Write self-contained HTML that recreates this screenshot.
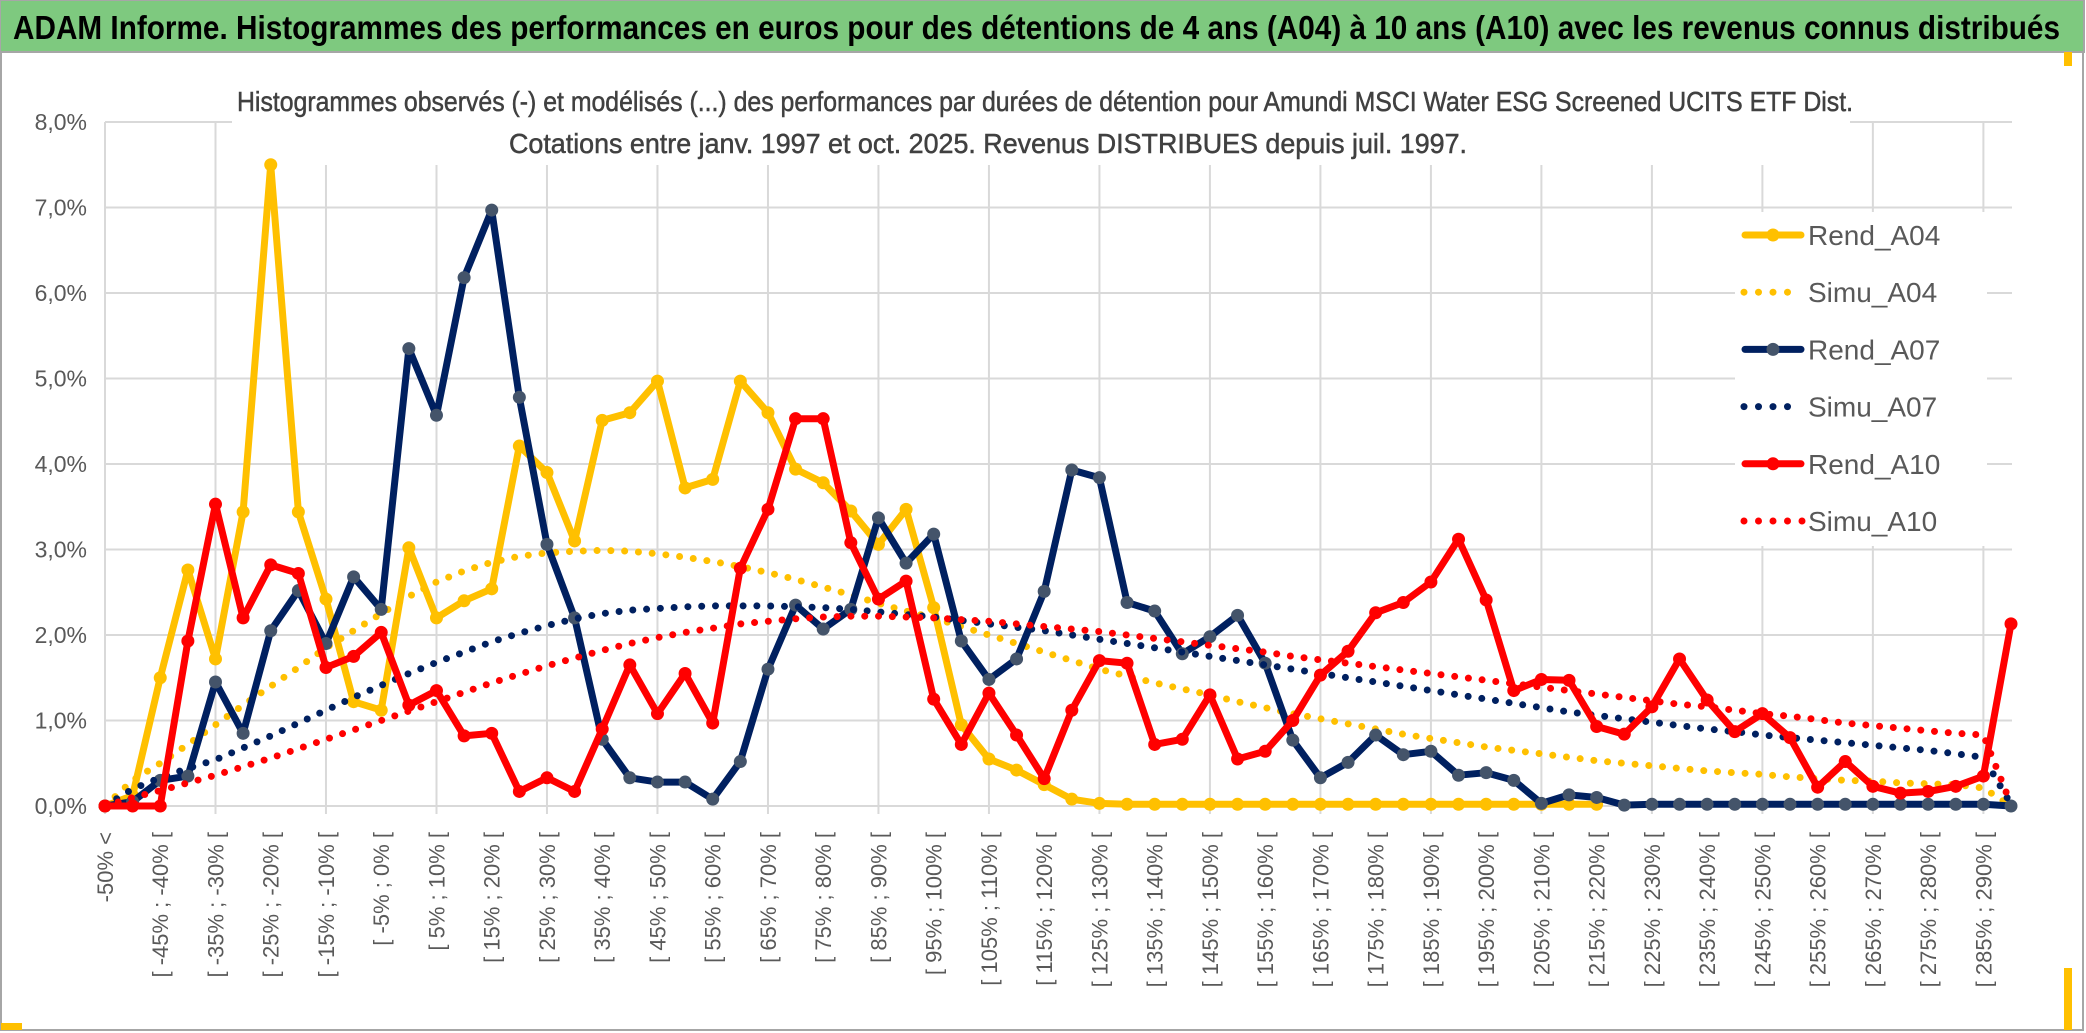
<!DOCTYPE html>
<html><head><meta charset="utf-8"><style>
html,body{margin:0;padding:0;background:#fff;}
svg{display:block;font-family:"Liberation Sans",sans-serif;}
</style></head><body>
<svg id="chart" width="2086" height="1033" viewBox="0 0 2086 1033" xmlns="http://www.w3.org/2000/svg">
  <rect x="0" y="0" width="2086" height="1033" fill="#ffffff"/>
  <rect x="1" y="52" width="2082" height="978" fill="#ffffff" stroke="#a6a6a6" stroke-width="2"/>
  <rect x="0" y="0" width="2084" height="52" fill="#7ec97f" stroke="#a6a6a6" stroke-width="2"/>
  <text x="13" y="39" font-size="33" font-weight="bold" fill="#000" textLength="2047" lengthAdjust="spacingAndGlyphs">ADAM Informe. Histogrammes des performances en euros pour des détentions de 4 ans (A04) à 10 ans (A10) avec les revenus connus distribués</text>
  <rect x="2064" y="52" width="8" height="14" fill="#ffc000"/>
  <rect x="1" y="1023" width="21" height="7" fill="#ffc000"/>
  <rect x="2064" y="968" width="8" height="62" fill="#ffc000"/>
  <g id="grid"></g>
  <rect x="232" y="70" width="1618" height="95" fill="#ffffff"/>
  <text x="237" y="111" font-size="28" fill="#404040" stroke="#404040" stroke-width="0.5" textLength="1616" lengthAdjust="spacingAndGlyphs">Histogrammes observés (-) et modélisés (...) des performances par durées de détention pour Amundi MSCI Water ESG Screened UCITS ETF Dist.</text>
  <text x="509" y="153" font-size="28" fill="#404040" stroke="#404040" stroke-width="0.5" textLength="958" lengthAdjust="spacingAndGlyphs">Cotations entre janv. 1997 et oct. 2025. Revenus DISTRIBUES depuis juil. 1997.</text>
  <g id="yaxis"></g>
  <g id="xaxis"></g>
  <rect x="1735" y="212" width="252" height="334" fill="#ffffff"/>
  <g id="series"></g>
  <g id="legend"></g>
</svg>
<script>
const categories = ['-50% <'];
for (let a = -50; a <= 290; a += 5) categories.push('[ ' + a + '% ; ' + (a + 5) + '% [');
const yTicks = [0, 1, 2, 3, 4, 5, 6, 7, 8];
const yTickLabels = ['0,0%', '1,0%', '2,0%', '3,0%', '4,0%', '5,0%', '6,0%', '7,0%', '8,0%'];
const seriesNames = ['Rend_A04', 'Simu_A04', 'Rend_A07', 'Simu_A07', 'Rend_A10', 'Simu_A10'];
const rendA04 = [0,0.12,1.5,2.76,1.72,3.44,7.5,3.44,2.42,1.22,
  1.12,3.02,2.2,2.4,2.54,4.21,3.9,3.1,4.51,4.6,
  4.97,3.72,3.82,4.97,4.6,3.94,3.78,3.45,3.06,3.47,
  2.32,0.95,0.55,0.42,0.25,0.08,0.03,0.02,0.02,0.02,
  0.02,0.02,0.02,0.02,0.02,0.02,0.02,0.02,0.02,0.02,
  0.02,0.02,0.02,0.02,0.02,null,null,null,null,null,
  null,null,null,null,null,null,null,null,null,null];
const simuA04 = [0,0.3,0.5,0.72,0.95,1.18,1.4,1.62,1.85,2.05,
  2.25,2.45,2.62,2.75,2.85,2.92,2.96,2.98,2.99,2.98,
  2.95,2.91,2.86,2.8,2.73,2.65,2.56,2.47,2.37,2.28,
  2.2,2.1,2.0,1.9,1.8,1.7,1.6,1.52,1.44,1.37,
  1.3,1.22,1.15,1.08,1.02,0.96,0.9,0.84,0.79,0.74,
  0.69,0.65,0.61,0.57,0.53,0.5,0.47,0.44,0.41,0.39,
  0.37,0.34,0.32,0.3,0.29,0.27,0.26,0.25,0.21,0];
const rendA07 = [0,0.05,0.3,0.35,1.45,0.85,2.05,2.52,1.9,2.68,
  2.3,5.35,4.57,6.18,6.97,4.78,3.06,2.2,0.78,0.33,
  0.28,0.28,0.08,0.52,1.6,2.35,2.07,2.3,3.37,2.84,
  3.18,1.93,1.48,1.72,2.51,3.93,3.84,2.38,2.28,1.78,
  1.98,2.23,1.67,0.77,0.33,0.51,0.83,0.6,0.64,0.36,
  0.39,0.3,0.03,0.13,0.1,0.01,0.02,0.02,0.02,0.02,
  0.02,0.02,0.02,0.02,0.02,0.02,0.02,0.02,0.02,0];
const simuA07 = [0,0.2,0.33,0.44,0.54,0.68,0.82,0.97,1.12,1.27,
  1.41,1.55,1.68,1.8,1.92,2.02,2.11,2.19,2.25,2.29,
  2.31,2.33,2.34,2.34,2.34,2.33,2.32,2.3,2.27,2.24,
  2.21,2.17,2.13,2.09,2.05,2.0,1.95,1.9,1.85,1.8,
  1.75,1.7,1.65,1.6,1.55,1.5,1.45,1.4,1.35,1.3,
  1.25,1.2,1.15,1.1,1.06,1.02,0.98,0.94,0.9,0.87,
  0.83,0.8,0.77,0.74,0.71,0.68,0.65,0.61,0.57,0.02];
const rendA10 = [0,0,0,1.93,3.53,2.2,2.82,2.72,1.62,1.75,
  2.03,1.18,1.35,0.82,0.85,0.17,0.33,0.17,0.9,1.65,
  1.08,1.55,0.97,2.78,3.47,4.53,4.53,3.08,2.42,2.63,
  1.25,0.72,1.32,0.83,0.32,1.12,1.7,1.67,0.72,0.78,
  1.3,0.55,0.64,1.0,1.53,1.81,2.26,2.38,2.62,3.12,
  2.41,1.35,1.48,1.47,0.93,0.84,1.16,1.72,1.24,0.87,
  1.08,0.8,0.22,0.52,0.23,0.15,0.17,0.23,0.35,2.13];
const simuA10 = [0,0.1,0.18,0.27,0.36,0.46,0.56,0.67,0.78,0.89,
  1.0,1.11,1.22,1.33,1.44,1.54,1.64,1.73,1.82,1.9,
  1.97,2.03,2.08,2.13,2.16,2.19,2.21,2.22,2.22,2.21,
  2.2,2.18,2.16,2.13,2.1,2.07,2.04,2.0,1.96,1.92,
  1.88,1.84,1.8,1.75,1.71,1.67,1.63,1.59,1.55,1.51,
  1.47,1.43,1.39,1.35,1.31,1.27,1.23,1.19,1.16,1.12,
  1.08,1.05,1.01,0.97,0.94,0.91,0.88,0.85,0.83,0.02];

const NS = 'http://www.w3.org/2000/svg';
const X0 = 105, X1 = 2011, Y0 = 806, PPU = 85.5;
const n = categories.length;
function xScale(i) { return X0 + i * (X1 - X0) / (n - 1); }
function yScale(v) { return Y0 - v * PPU; }
function mk(tag, attrs, parent) {
  const e = document.createElementNS(NS, tag);
  for (const k in attrs) e.setAttribute(k, attrs[k]);
  parent.appendChild(e);
  return e;
}
const grid = document.getElementById('grid');
const yaxis = document.getElementById('yaxis');
const xaxis = document.getElementById('xaxis');
const seriesG = document.getElementById('series');
const legend = document.getElementById('legend');

yTicks.forEach(function (t, k) {
  const y = yScale(t);
  const l = mk('line', {x1: X0, x2: 2012, y1: y, y2: y, stroke: '#d9d9d9', 'stroke-width': 2}, grid);
  
  
  const tx = mk('text', {x: 87, y: y + 8, 'text-anchor': 'end', 'font-size': 23, fill: '#595959'}, yaxis);
  tx.textContent = yTickLabels[k];
  
  
});
for (let i = 0; i < n; i += 4) {
  const x = xScale(i);
  const l = mk('line', {x1: x, x2: x, y1: yScale(8), y2: 814, stroke: '#d9d9d9', 'stroke-width': 2}, grid);
  
  
}
for (let i = 0; i < n; i += 2) {
  const x = xScale(i) + 8;
  const tx = mk('text', {x: 0, y: 0, 'text-anchor': 'end', 'font-size': 22, fill: '#595959',
    transform: 'translate(' + x + ',832) rotate(-90)'}, xaxis);
  tx.textContent = categories[i];
  
  
}

function pathFor(vals) {
  let d = '', pen = false;
  vals.forEach(function (v, i) {
    if (v === null || v === undefined) { pen = false; return; }
    d += (pen ? 'L' : 'M') + xScale(i).toFixed(1) + ' ' + yScale(v).toFixed(1) + ' ';
    pen = true;
  });
  return d;
}
function drawSolid(vals, color, markerFill, name) {
  const g = mk('g', {}, seriesG);
  
  
  const p = mk('path', {d: pathFor(vals), fill: 'none', stroke: color, 'stroke-width': 7, 'stroke-linejoin': 'round', 'stroke-linecap': 'round'}, g);
  
  
  vals.forEach(function (v, i) {
    if (v === null) return;
    const c = mk('circle', {cx: xScale(i), cy: yScale(v), r: 6.5, fill: markerFill}, g);
    
    
  });
}
function drawDotted(vals, color, name) {
  const p = mk('path', {d: pathFor(vals), fill: 'none', stroke: color, 'stroke-width': 7, 'stroke-dasharray': '0 13.8', 'stroke-linecap': 'round', 'stroke-linejoin': 'round'}, seriesG);
  
  
}
drawSolid(rendA04, '#ffc000', '#ffc000', 'rend-a04');
drawDotted(simuA04, '#ffc000', 'simu-a04');
drawSolid(rendA07, '#002060', '#44546a', 'rend-a07');
drawDotted(simuA07, '#002060', 'simu-a07');
drawSolid(rendA10, '#ff0000', '#ff0000', 'rend-a10');
drawDotted(simuA10, '#ff0000', 'simu-a10');

const legendColors = ['#ffc000', '#ffc000', '#002060', '#002060', '#ff0000', '#ff0000'];
const legendMarkers = ['#ffc000', null, '#44546a', null, '#ff0000', null];
seriesNames.forEach(function (nm, k) {
  const y = 235 + k * 57.2;
  const g = mk('g', {}, legend);
  
  
  if (legendMarkers[k]) {
    mk('line', {x1: 1745, x2: 1801, y1: y, y2: y, stroke: legendColors[k], 'stroke-width': 7, 'stroke-linecap': 'round'}, g);
    mk('circle', {cx: 1773, cy: y, r: 6.5, fill: legendMarkers[k]}, g);
  } else {
    const cnt = k === 5 ? 5 : 4;
    for (let j = 0; j < cnt; j++) mk('circle', {cx: 1744 + j * 14.5, cy: y, r: 3.5, fill: legendColors[k]}, g);
  }
  const t = mk('text', {x: 1808, y: y + 10, 'font-size': 28, fill: '#595959'}, g);
  t.textContent = nm;
});
</script>
</body></html>
